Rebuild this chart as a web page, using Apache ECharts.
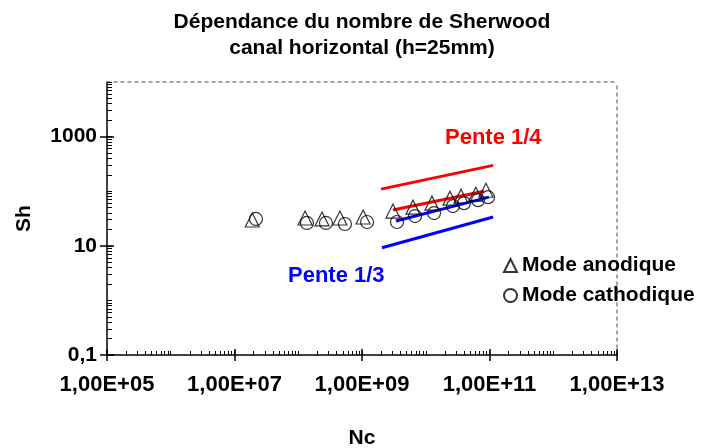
<!DOCTYPE html>
<html>
<head>
<meta charset="utf-8">
<script src="https://cdn.jsdelivr.net/npm/echarts@6/dist/echarts.min.js"></script>
<style>
  html, body { margin: 0; padding: 0; background: #fff; }
  #chart { width: 701px; height: 448px; }
</style>
</head>
<body>
<div id="chart"></div>
<script>
// Sherwood number vs Nc, horizontal channel (h = 25 mm), log-log
const nc_anodique = [1.9e7, 1.28e8, 2.36e8, 4.5e8, 1.04e9, 3.06e9, 6.3e9, 1.25e10, 2.4e10, 3.57e10, 6.1e10, 8.8e10];
const sh_anodique = [29.7, 32.3, 31.0, 32.3, 33.7, 43.3, 51.1, 60.5, 74.6, 81.1, 88.2, 104];
const nc_cathodique = [2.17e7, 1.37e8, 2.72e8, 5.4e8, 1.2e9, 3.54e9, 6.8e9, 1.35e10, 2.67e10, 3.98e10, 6.6e10, 9.47e10];
const sh_cathodique = [31.0, 26.2, 26.2, 25.1, 27.3, 27.3, 35.1, 39.8, 53.4, 60.5, 68.6, 77.8];

// slope guide lines (end points)
const pente14_haut_nc = [1.99e9, 1.14e11];
const pente14_haut_sh = [109, 297];
const pente14_bas_nc = [3.06e9, 8.2e10];
const pente14_bas_sh = [45.1, 100];
const pente13_haut_nc = [3.41e9, 9.8e10];
const pente13_haut_sh = [28.5, 77.8];
const pente13_bas_nc = [2.06e9, 1.14e11];
const pente13_bas_sh = [9.2, 33.7];

// axis ticks and labels
const xMajorValues = [1e5, 1e7, 1e9, 1e11, 1e13];
const xTickLabels = ['1,00E+05', '1,00E+07', '1,00E+09', '1,00E+11', '1,00E+13'];
const yMajorValues = [0.1, 10, 1000];
const yTickLabels = ['0,1', '10', '1000'];

function decadeTicks(lo, hi) {
  const out = [];
  for (let d = lo; d < hi; d++) {
    for (let k = 1; k <= 9; k++) out.push(k * Math.pow(10, d));
  }
  out.push(Math.pow(10, hi));
  return out;
}
const xMinorValues = decadeTicks(5, 13);
const yMinorValues = decadeTicks(-1, 4);

const pairs = (xs, ys) => xs.map((x, i) => [x, ys[i]]);
const labelFor = (majors, labels) => v =>
  labels[majors.findIndex(m => Math.abs(Math.log10(m) - Math.log10(v)) < 1e-6)] || '';

const FONT = 'Liberation Sans, Arial, sans-serif';
const X_RANGE = { min: 1e5, max: 1e13 };
const Y_RANGE = { min: 0.1, max: 1e4 };

function xAxisBase(extra) {
  return Object.assign({
    type: 'log', logBase: 10, min: X_RANGE.min, max: X_RANGE.max,
    position: 'bottom', splitLine: { show: false },
    axisLine: { show: false }, axisTick: { show: false }, axisLabel: { show: false }
  }, extra);
}
function yAxisBase(extra) {
  return Object.assign({
    type: 'log', logBase: 10, min: Y_RANGE.min, max: Y_RANGE.max,
    position: 'left', splitLine: { show: false },
    axisLine: { show: false }, axisTick: { show: false }, axisLabel: { show: false }
  }, extra);
}

const chart = echarts.init(document.getElementById('chart'), null, { renderer: 'canvas' });

const option = {
  backgroundColor: '#fff',
  animation: false,
  title: {
    text: 'Dépendance du nombre de Sherwood\ncanal horizontal (h=25mm)',
    left: 357, top: 4, textAlign: 'center',
    textStyle: { fontFamily: FONT, fontWeight: 'bold', fontSize: 21, lineHeight: 26, color: '#000' }
  },
  grid: { left: 107, right: 84, top: 82, bottom: 93, outerBoundsMode: 'none', containLabel: false },
  legend: {
    orient: 'vertical', left: 498, top: 250,
    itemWidth: 13, itemHeight: 13, itemGap: 9,
    textStyle: { fontFamily: FONT, fontWeight: 'bold', fontSize: 21, color: '#000' },
    data: [
      { name: 'Mode anodique', icon: 'triangle' },
      { name: 'Mode cathodique', icon: 'circle' }
    ]
  },
  xAxis: [
    // main axis: line, crossing major ticks (outer half), labels
    xAxisBase({
      name: 'Nc', nameLocation: 'middle', nameGap: 73,
      nameTextStyle: { fontFamily: FONT, fontWeight: 'bold', fontSize: 21, color: '#000' },
      axisLine: { show: true, lineStyle: { color: '#000', width: 1.5 } },
      axisTick: { show: true, inside: false, length: 6, customValues: xMajorValues, lineStyle: { color: '#000', width: 1.5 } },
      axisLabel: {
        show: true, customValues: xMajorValues, margin: 19,
        fontFamily: FONT, fontWeight: 'bold', fontSize: 22, color: '#000',
        formatter: labelFor(xMajorValues, xTickLabels)
      }
    }),
    // inner half of major ticks
    xAxisBase({
      axisTick: { show: true, inside: true, length: 6, customValues: xMajorValues, lineStyle: { color: '#000', width: 1.5 } }
    }),
    // minor logarithmic ticks
    xAxisBase({
      axisTick: { show: true, inside: true, length: 4, customValues: xMinorValues, lineStyle: { color: '#000', width: 1 } }
    }),
    // dotted top frame
    xAxisBase({
      position: 'top',
      axisLine: { show: true, lineStyle: { color: '#888', width: 1.5, type: [3, 4] } }
    })
  ],
  yAxis: [
    yAxisBase({
      name: 'Sh', nameLocation: 'middle', nameGap: 72, nameRotate: 90,
      nameTextStyle: { fontFamily: FONT, fontWeight: 'bold', fontSize: 21, color: '#000' },
      axisLine: { show: true, lineStyle: { color: '#000', width: 1.5 } },
      axisTick: { show: true, inside: false, length: 7, customValues: yMajorValues, lineStyle: { color: '#000', width: 1.5 } },
      axisLabel: {
        show: true, customValues: yMajorValues, margin: 10,
        fontFamily: FONT, fontWeight: 'bold', fontSize: 21, color: '#000',
        formatter: labelFor(yMajorValues, yTickLabels)
      }
    }),
    yAxisBase({
      axisTick: { show: true, inside: true, length: 7, customValues: yMajorValues, lineStyle: { color: '#000', width: 1.5 } }
    }),
    yAxisBase({
      axisTick: { show: true, inside: true, length: 5, customValues: yMinorValues, lineStyle: { color: '#000', width: 1 } }
    }),
    yAxisBase({
      position: 'right',
      axisLine: { show: true, lineStyle: { color: '#888', width: 1.5, type: [3, 4] } }
    })
  ],
  graphic: [
    { type: 'text', left: 445, top: 127,
      style: { text: 'Pente 1/4', fill: '#ff0000', font: 'bold 22px ' + FONT } },
    { type: 'text', left: 288, top: 265,
      style: { text: 'Pente 1/3', fill: '#0000ff', font: 'bold 22px ' + FONT } }
  ],
  series: [
    { name: 'pente14_haut', type: 'line', data: pairs(pente14_haut_nc, pente14_haut_sh), symbol: 'none',
      lineStyle: { color: '#ff0000', width: 3 }, silent: true, z: 1 },
    { name: 'pente14_bas', type: 'line', data: pairs(pente14_bas_nc, pente14_bas_sh), symbol: 'none',
      lineStyle: { color: '#ff0000', width: 3 }, silent: true, z: 1 },
    { name: 'pente13_haut', type: 'line', data: pairs(pente13_haut_nc, pente13_haut_sh), symbol: 'none',
      lineStyle: { color: '#0000ff', width: 3 }, silent: true, z: 1 },
    { name: 'pente13_bas', type: 'line', data: pairs(pente13_bas_nc, pente13_bas_sh), symbol: 'none',
      lineStyle: { color: '#0000ff', width: 3 }, silent: true, z: 1 },
    { name: 'Mode anodique', type: 'scatter', symbol: 'triangle', symbolSize: 14,
      data: pairs(nc_anodique, sh_anodique),
      itemStyle: { color: 'rgba(255,255,255,0)', borderColor: '#000', borderWidth: 1.2 }, z: 3 },
    { name: 'Mode cathodique', type: 'scatter', symbol: 'circle', symbolSize: 13,
      data: pairs(nc_cathodique, sh_cathodique),
      itemStyle: { color: 'rgba(255,255,255,0)', borderColor: '#000', borderWidth: 1.2 }, z: 3 }
  ]
};

chart.setOption(option);
</script>
</body>
</html>
